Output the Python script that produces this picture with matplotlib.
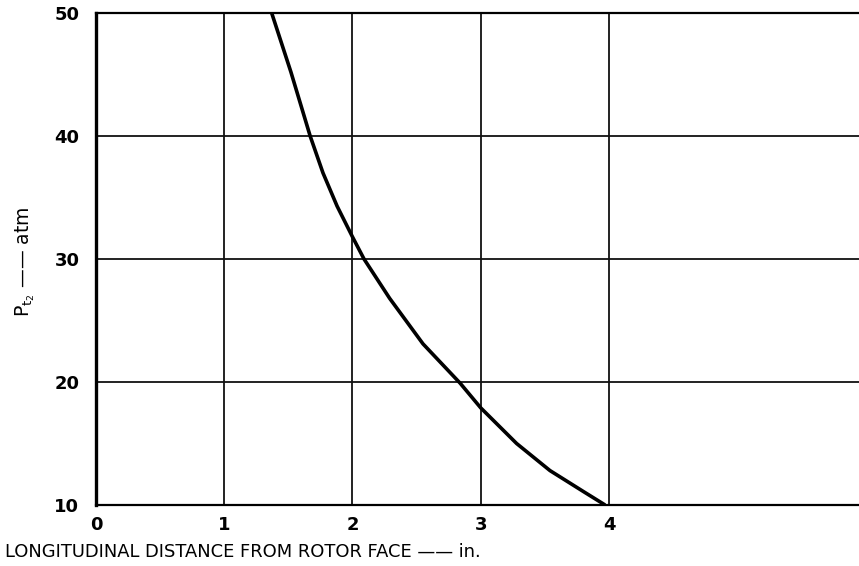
import matplotlib
matplotlib.use("Agg")
import matplotlib.pyplot as plt

# curve
distance = [1.37, 1.52, 1.67, 1.77, 1.88, 2.0, 2.09, 2.29, 2.55, 2.84, 3.0, 3.28, 3.54, 3.8, 3.97]
pressure = [50, 45.2, 40, 37.0, 34.3, 31.8, 30, 26.8, 23.1, 19.9, 17.9, 15.0, 12.8, 11.1, 10.0]

x_ticks = [0, 1, 2, 3, 4]
x_tick_labels = ["0", "1", "2", "3", "4"]
y_ticks = [10, 20, 30, 40, 50]
y_tick_labels = ["10", "20", "30", "40", "50"]

plt.rcParams['font.family'] = ['DejaVu Sans']

fig = plt.figure(figsize=(8.59, 5.66), dpi=100)
ax = fig.add_axes([96 / 859, 61 / 566, 1 - 96 / 859, 492 / 566])

ax.plot(distance, pressure, color='black', linewidth=2.6,
        solid_capstyle='butt', solid_joinstyle='round', zorder=3)

ax.set_xlim(0, 5.95)
ax.set_ylim(10, 50)

# grid: verticals at integer inches, horizontals every 10 atm
for xv in x_ticks[1:]:
    ax.axvline(xv, color='#111111', linewidth=1.3, zorder=1)
for yv in y_ticks[1:-1]:
    ax.axhline(yv, color='#111111', linewidth=1.3, zorder=1)

ax.spines['right'].set_visible(False)
ax.spines['left'].set_linewidth(2.4)
ax.spines['top'].set_linewidth(1.6)
ax.spines['bottom'].set_linewidth(1.6)

ax.set_xticks(x_ticks)
ax.set_xticklabels(x_tick_labels, fontsize=13, fontweight='bold')
ax.set_yticks(y_ticks)
ax.set_yticklabels(y_tick_labels, fontsize=13, fontweight='bold')
ax.tick_params(axis='both', length=0)
ax.tick_params(axis='x', pad=8)
ax.tick_params(axis='y', pad=12)

fig.text(5 / 859, 1 - 552 / 566, "LONGITUDINAL DISTANCE FROM ROTOR FACE —— in.",
         fontsize=12.9, ha='left', va='center')
fig.text(25 / 859, 1 - 262 / 566, r"$\mathregular{P_{t_2}}$ —— atm", fontsize=13.5,
         rotation=90, ha='center', va='center')

fig.savefig("out.png", dpi=100)
